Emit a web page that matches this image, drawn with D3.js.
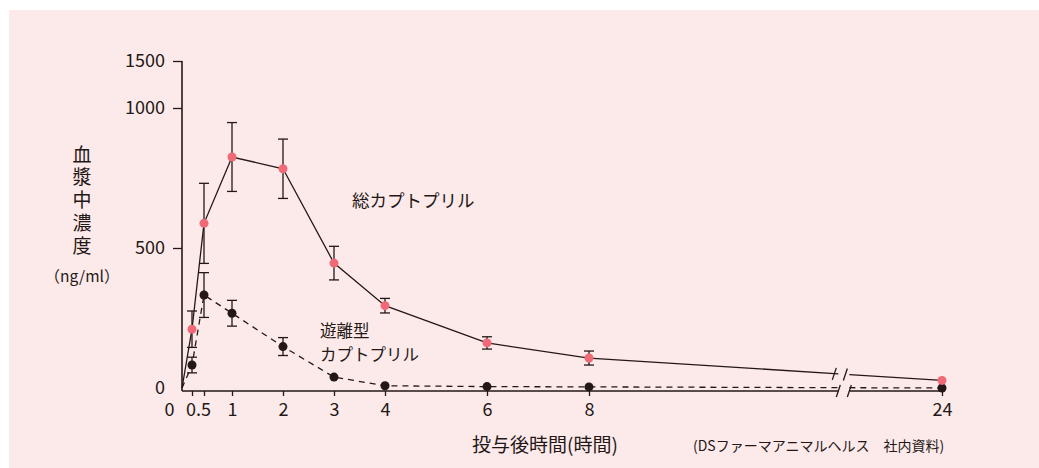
<!DOCTYPE html>
<html>
<head>
<meta charset="utf-8">
<script src="https://cdn.jsdelivr.net/npm/d3@7"></script>
<style>
  body { margin: 0; background: #fff; }
  svg text { font-family: "Noto Sans CJK JP", "Noto Sans", sans-serif; fill: #231815; }
</style>
</head>
<body>
<svg id="chart" width="1039" height="468"></svg>
<script>
// hours after dosing
var hours = [0.25, 0.5, 1, 2, 3, 4, 6, 8, 24];
// total captopril (ng/ml) and SD
var totalMean = [210, 588, 825, 783, 446, 294, 161, 107, 27];
var totalErr  = [65, 143, 123, 106, 60, 26, 22, 25, 0];
// free captopril
var freeMean = [82, 332, 267, 148, 39, 8, 5, 4, 0];
var freeErr  = [28, 80, 46, 32, 0, 0, 0, 0, 0];

var xTicks = [0, 0.25, 0.5, 1, 2, 3, 4, 6, 8, 24];
var yTicks = [0, 500, 1000, 1500];
var axisBreak = [19.3, 19.8];

var ink = "#231815", pink = "#ef6a76";
var svg = d3.select("#chart");

svg.append("rect").attr("x", 9).attr("y", 10).attr("width", 1030).attr("height", 458).attr("fill", "#fce9ea");

// piecewise scales: compressed start on x, compressed top on y
var x = d3.scaleLinear().domain([0, 0.25, 0.5, 1, 8, 24]).range([182, 192, 204, 232, 589, 942]);
var y = d3.scaleLinear().domain([0, 1000, 1500]).range([388, 108, 61]);
var axisY = y(0) + 3;

// y axis
var yAxis = svg.append("g").attr("transform", "translate(182,0)")
  .call(d3.axisLeft(y).tickValues(yTicks).tickSize(9).tickPadding(8).tickFormat(d3.format("d")));
yAxis.select(".domain").remove();
yAxis.selectAll(".tick").filter(d => d === 0).select("line").remove();
yAxis.selectAll("line").attr("stroke", ink).attr("stroke-width", 1.3);
yAxis.selectAll("text").attr("font-size", 18).attr("fill", ink);
svg.append("line").attr("x1", 182).attr("x2", 182).attr("y1", y(1500)).attr("y2", axisY)
  .attr("stroke", ink).attr("stroke-width", 1.6);

// x axis
var xAxis = svg.append("g").attr("transform", "translate(0," + axisY + ")")
  .call(d3.axisBottom(x).tickValues(xTicks).tickSize(5)
    .tickFormat(d => d === 0.25 ? "" : String(d)));
xAxis.select(".domain").remove();
xAxis.selectAll(".tick").filter(d => d === 0).select("line").remove();
xAxis.selectAll("line").attr("stroke", ink).attr("stroke-width", 1.3);
xAxis.selectAll("text").attr("font-size", 18).attr("fill", ink).attr("y", 25).attr("dy", 0)
  .attr("dx", d => d === 0 ? -13 : d === 0.5 ? -6 : 0);
svg.append("line").attr("x1", 182).attr("x2", x(axisBreak[0])).attr("y1", axisY).attr("y2", axisY)
  .attr("stroke", ink).attr("stroke-width", 1.6);
svg.append("line").attr("x1", x(axisBreak[1])).attr("x2", x(24)).attr("y1", axisY).attr("y2", axisY)
  .attr("stroke", ink).attr("stroke-width", 1.6);

function slash(cx, cy) {
  svg.append("line").attr("x1", cx - 2).attr("y1", cy + 6).attr("x2", cx + 2).attr("y2", cy - 6)
    .attr("stroke", ink).attr("stroke-width", 1.3);
}
slash(x(axisBreak[0]), axisY);
slash(x(axisBreak[1]), axisY);

// one series: line (with the break) + error bars + dots
function series(mean, err, color, dash) {
  var pts = [[0, 0]].concat(hours.map((h, i) => [h, mean[i]]));
  var n = pts.length;
  var a = pts[n - 2], b = pts[n - 1];
  var at = t => a[1] + (b[1] - a[1]) * (t - a[0]) / (b[0] - a[0]);
  var left = pts.slice(0, n - 1).concat([[axisBreak[0], at(axisBreak[0])]]);
  var right = [[axisBreak[1], at(axisBreak[1])], b];
  var line = d3.line().x(d => x(d[0])).y(d => y(d[1]));
  [left, right].forEach(seg => {
    svg.append("path").attr("d", line(seg)).attr("fill", "none")
      .attr("stroke", ink).attr("stroke-width", 1.3).attr("stroke-dasharray", dash);
  });
  if (!dash) {
    slash(x(axisBreak[0]) - 4, y(at(axisBreak[0])));
    slash(x(axisBreak[1]) - 4, y(at(axisBreak[1])));
  }
  var eb = svg.append("g").attr("stroke", ink).attr("stroke-width", 1.3);
  hours.forEach((h, i) => {
    if (!err[i]) return;
    var cx = x(h), t = y(mean[i] + err[i]), bt = y(mean[i] - err[i]);
    eb.append("line").attr("x1", cx).attr("x2", cx).attr("y1", t).attr("y2", bt);
    eb.append("line").attr("x1", cx - 5).attr("x2", cx + 5).attr("y1", t).attr("y2", t);
    eb.append("line").attr("x1", cx - 5).attr("x2", cx + 5).attr("y1", bt).attr("y2", bt);
  });
  svg.append("g").selectAll("circle").data(hours).join("circle")
    .attr("cx", d => x(d)).attr("cy", (d, i) => y(mean[i])).attr("r", 4.5).attr("fill", color);
}

series(freeMean, freeErr, ink, "6,5");
series(totalMean, totalErr, pink, null);

// labels
svg.append("text").attr("x", 82).attr("y", 145).attr("font-size", 19)
  .style("writing-mode", "vertical-rl").style("letter-spacing", "3.7px")
  .text("血漿中濃度");
svg.append("text").attr("x", 82).attr("y", 282).attr("font-size", 15.5).attr("text-anchor", "middle").text("（ng/ml）");

svg.append("text").attr("x", 352).attr("y", 207).attr("font-size", 17.5).text("総カプトプリル");
svg.append("text").attr("x", 320).attr("y", 337).attr("font-size", 16.5).text("遊離型");
svg.append("text").attr("x", 320).attr("y", 361).attr("font-size", 16.5).text("カプトプリル");

svg.append("text").attr("x", 472).attr("y", 452).attr("font-size", 19).text("投与後時間(時間)");
svg.append("text").attr("x", 693).attr("y", 451).attr("font-size", 14).text("(DSファーマアニマルヘルス　社内資料)");
</script>
</body>
</html>
